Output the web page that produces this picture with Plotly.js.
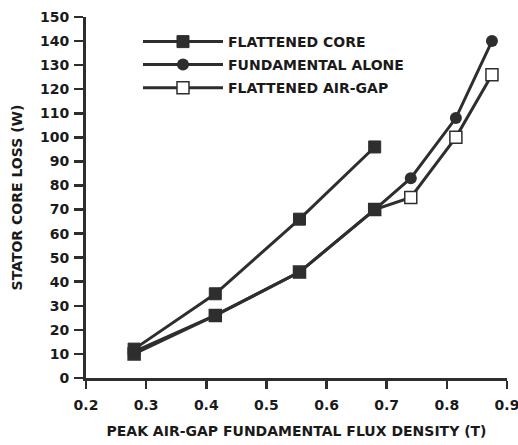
<!DOCTYPE html>
<html>
<head>
<meta charset="utf-8">
<script src="https://cdn.plot.ly/plotly-3.0.1.min.js"></script>
<style>html,body{margin:0;padding:0;background:#fff;}#chart{width:518px;height:445px;}</style>
</head>
<body>
<div id="chart"></div>
<script>
// Data
const coreX = [0.28, 0.415, 0.555, 0.68];
const coreY = [12, 35, 66, 96];
const fundX = [0.28, 0.415, 0.555, 0.68, 0.74, 0.815, 0.875];
const fundY = [11, 26, 44, 70, 83, 108, 140];
const gapX = [0.28, 0.415, 0.555, 0.68, 0.74, 0.815, 0.875];
const gapY = [10, 26, 44, 70, 75, 100, 126];
const seriesNames = ["FLATTENED CORE", "FUNDAMENTAL ALONE", "FLATTENED AIR-GAP"];
const xTicks = [0.2, 0.3, 0.4, 0.5, 0.6, 0.7, 0.8, 0.9];
const yTicks = [0, 10, 20, 30, 40, 50, 60, 70, 80, 90, 100, 110, 120, 130, 140, 150];

const ink = '#2e2e2e';
const fam = 'DejaVu Sans, Arial, sans-serif';
const txt = '#1a1a1a';

// points on the shared lower curve print as dark blobs
const gapFill = gapX.map((v, i) => (gapY[i] === fundY[i] || i === 0) ? ink : '#ffffff');

const traces = [
  {x: fundX, y: fundY, name: seriesNames[1], mode: 'lines+markers', legend: 'legend2',
   line: {color: ink, width: 3},
   marker: {symbol: 'circle', size: 12, color: ink},
   cliponaxis: false},
  {x: gapX, y: gapY, name: seriesNames[2], mode: 'lines+markers', showlegend: false,
   line: {color: ink, width: 3},
   marker: {symbol: 'square', size: 12, color: gapFill, line: {color: ink, width: 1.5}},
   cliponaxis: false},
  {x: coreX, y: coreY, name: seriesNames[0], mode: 'lines+markers', legend: 'legend',
   line: {color: ink, width: 3},
   marker: {symbol: 'square', size: 12, color: ink, line: {color: ink, width: 1}},
   cliponaxis: false},
  {x: [null], y: [null], name: seriesNames[2], mode: 'lines+markers', legend: 'legend3',
   line: {color: ink, width: 3},
   marker: {symbol: 'square', size: 12, color: '#ffffff', line: {color: ink, width: 1.5}}}
];

const legFont = {family: fam, size: 14, color: txt, weight: 'bold'};
function leg(y) {
  return {x: 0.1235, y: y, xanchor: 'left', yanchor: 'middle', bgcolor: 'rgba(0,0,0,0)',
          borderwidth: 0, font: legFont, itemwidth: 80};
}

const layout = {
  width: 518, height: 445,
  margin: {l: 86, r: 11, t: 17, b: 67},
  paper_bgcolor: '#ffffff', plot_bgcolor: '#ffffff',
  font: {family: fam, size: 13, color: txt},
  showlegend: true,
  legend: leg(0.9307),
  legend2: leg(0.867),
  legend3: leg(0.803),
  xaxis: {range: [0.2, 0.9], tickvals: xTicks, tickformat: '.1f',
          showgrid: false, zeroline: false, showline: true, linecolor: ink, linewidth: 3,
          ticks: 'outside', ticklen: 8, tickwidth: 2.5, tickcolor: ink, ticklabelstandoff: 4,
          ticklabeloverflow: 'allow',
          tickfont: {family: fam, size: 14, color: txt, weight: 'bold'},
          title: {text: 'PEAK AIR-GAP FUNDAMENTAL FLUX DENSITY (T)', standoff: 15,
                  font: {family: fam, size: 14, color: txt, weight: 'bold'}}},
  yaxis: {range: [0, 150], tickvals: yTicks,
          showgrid: false, zeroline: false, showline: true, linecolor: ink, linewidth: 3,
          ticks: 'outside', ticklen: 9, tickwidth: 2.5, tickcolor: ink, ticklabelstandoff: 2,
          tickfont: {family: fam, size: 14, color: txt, weight: 'bold'},
          title: {text: 'STATOR CORE LOSS (W)', standoff: 15,
                  font: {family: fam, size: 14, color: txt, weight: 'bold'}}}
};

Plotly.newPlot('chart', traces, layout, {displayModeBar: false, staticPlot: true});
</script>
</body>
</html>
